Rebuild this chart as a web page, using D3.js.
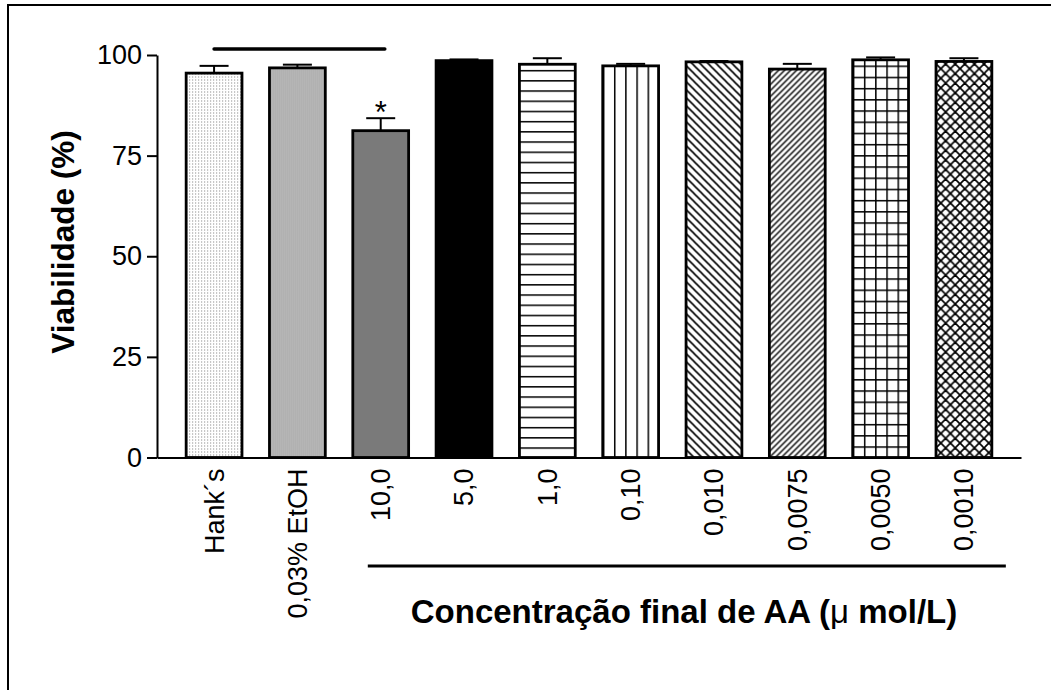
<!DOCTYPE html>
<html>
<head>
<meta charset="utf-8">
<script src="https://cdn.jsdelivr.net/npm/d3@7"></script>
<style>
  html, body { margin: 0; padding: 0; background: #fff; }
  svg { display: block; font-family: "Liberation Sans", Arial, sans-serif; }
</style>
</head>
<body>
<svg id="chart" width="1051" height="690"></svg>
<script>
// Cell viability per treatment (mean and upper SEM)
const categories = ["Hank´s", "0,03% EtOH", "10,0", "5,0", "1,0", "0,10", "0,010", "0,0075", "0,0050", "0,0010"];
const viability  = [95.5, 96.8, 81.2, 98.6, 97.7, 97.3, 98.3, 96.5, 98.8, 98.4];
const sem        = [1.8, 0.8, 3.1, 0.3, 1.5, 0.5, 0.2, 1.3, 0.6, 0.8];
const fillStyles = ["dots", "fineVertical", "checker", "solid", "hLines", "vLines", "backDiag", "fwdDiag", "grid", "cross"];
const yTicks     = [0, 25, 50, 75, 100];
const yTitle     = "Viabilidade (%)";
const xTitle     = "Concentração final de AA (";
const xTitleUnit = "μ";
const xTitleEnd  = " mol/L)";
const significant = ["10,0"];
const controlBracket = ["Hank´s", "10,0"];
const doseBracket = ["10,0", "0,0010"];

const svg = d3.select("#chart");
const defs = svg.append("defs");

// outer frame
svg.append("rect")
  .attr("x", 8).attr("y", 5).attr("width", 1200).attr("height", 900)
  .attr("fill", "none").attr("stroke", "#000").attr("stroke-width", 2);

const x = d3.scaleBand().domain(categories).range([157, 1021])
  .paddingInner(0.33).paddingOuter(0.35);
const y = d3.scaleLinear().domain([0, 100]).range([457.5, 55]);

// hatch / texture patterns, one per bar, anchored at the bar's left edge
function makePattern(id, style, x0) {
  const p = defs.append("pattern").attr("id", id)
    .attr("patternUnits", "userSpaceOnUse").attr("x", x0).attr("y", y(0));
  const line = (g, x1, y1, x2, y2, w) => g.append("line")
    .attr("x1", x1).attr("y1", y1).attr("x2", x2).attr("y2", y2)
    .attr("stroke", "#000").attr("stroke-width", w);
  const bg = (w, h, c) => p.append("rect").attr("width", w).attr("height", h).attr("fill", c);
  switch (style) {
    case "dots":
      p.attr("width", 3).attr("height", 3);
      bg(3, 3, "#fff");
      p.append("rect").attr("width", 1).attr("height", 1).attr("fill", "#7a7a7a");
      break;
    case "fineVertical":
      p.attr("width", 2).attr("height", 2);
      bg(2, 2, "#dcdcdc");
      p.append("rect").attr("width", 1).attr("height", 2).attr("fill", "#8a8a8a");
      break;
    case "checker":
      p.attr("width", 2).attr("height", 2);
      bg(2, 2, "#d2d2d2");
      p.append("rect").attr("width", 1).attr("height", 1).attr("fill", "#222");
      p.append("rect").attr("x", 1).attr("y", 1).attr("width", 1).attr("height", 1).attr("fill", "#222");
      break;
    case "solid":
      p.attr("width", 4).attr("height", 4);
      bg(4, 4, "#000");
      break;
    case "hLines":
      p.attr("width", 10).attr("height", 10.2);
      bg(10, 10.2, "#fff");
      line(p, 0, 0, 10, 0, 3);
      break;
    case "vLines":
      p.attr("width", 11.2).attr("height", 10);
      bg(11.2, 10, "#fff");
      line(p, 0, 0, 0, 10, 3);
      break;
    case "backDiag":
      p.attr("width", 8).attr("height", 8);
      bg(8, 8, "#fff");
      line(p, -1, -1, 9, 9, 1.6);
      line(p, -5, 3, 1, 9, 1.6);
      line(p, 7, -1, 9, 1, 1.6);
      break;
    case "fwdDiag":
      p.attr("width", 6).attr("height", 6);
      bg(6, 6, "#fff");
      line(p, -1, 7, 7, -1, 1.4);
      line(p, -1, 1, 1, -1, 1.4);
      line(p, 5, 7, 7, 5, 1.4);
      break;
    case "grid":
      p.attr("width", 11.2).attr("height", 11.2);
      bg(11.2, 11.2, "#fff");
      line(p, 0, 0, 11.2, 0, 3);
      line(p, 0, 0, 0, 11.2, 3);
      break;
    case "cross":
      p.attr("width", 9.6).attr("height", 9.6);
      bg(9.6, 9.6, "#fff");
      line(p, -1, -1, 10.6, 10.6, 1.7);
      line(p, -1, 10.6, 10.6, -1, 1.7);
      break;
  }
}

categories.forEach((c, i) => makePattern("fill" + i, fillStyles[i], x(c)));

// bars
svg.append("g").selectAll("rect")
  .data(categories)
  .join("rect")
  .attr("x", d => x(d))
  .attr("y", (d, i) => y(viability[i]))
  .attr("width", x.bandwidth())
  .attr("height", (d, i) => y(0) - y(viability[i]))
  .attr("fill", (d, i) => "url(#fill" + i + ")")
  .attr("stroke", "#000")
  .attr("stroke-width", 2.8);

// upper error bars
const eb = svg.append("g").attr("stroke", "#000").attr("stroke-width", 2);
categories.forEach((c, i) => {
  const cx = x(c) + x.bandwidth() / 2;
  const top = y(viability[i] + sem[i]);
  eb.append("line").attr("x1", cx).attr("x2", cx).attr("y1", y(viability[i])).attr("y2", top);
  eb.append("line").attr("x1", cx - 14.5).attr("x2", cx + 14.5).attr("y1", top).attr("y2", top);
});

// y axis
const yAxis = svg.append("g")
  .attr("transform", "translate(157,0)")
  .call(d3.axisLeft(y).tickValues(yTicks).tickSize(10).tickSizeOuter(0).tickPadding(5));
yAxis.select(".domain").attr("stroke-width", 2);
yAxis.selectAll(".tick line").attr("stroke-width", 2);
yAxis.selectAll(".tick text")
  .attr("font-size", 27).attr("fill", "#000")
  .attr("font-family", "Liberation Sans, Arial, sans-serif");

// x axis (no ticks), category labels set vertically
const xAxis = svg.append("g")
  .attr("transform", "translate(0," + y(0) + ")")
  .call(d3.axisBottom(x).tickSize(0).tickSizeOuter(0));
xAxis.select(".domain").attr("stroke-width", 2);
xAxis.selectAll(".tick text")
  .attr("font-size", 27).attr("fill", "#000")
  .attr("font-family", "Liberation Sans, Arial, sans-serif")
  .attr("text-anchor", "end")
  .attr("transform", "rotate(-90)")
  .attr("x", -11).attr("y", 0).attr("dy", "0.35em");

// y title
svg.append("text")
  .attr("transform", "translate(74,242) rotate(-90)")
  .attr("text-anchor", "middle")
  .attr("font-size", 31.5).attr("font-weight", "bold")
  .text(yTitle);

// x title
const xt = svg.append("text")
  .attr("x", 684).attr("y", 623)
  .attr("text-anchor", "middle")
  .attr("font-size", 33).attr("font-weight", "bold");
xt.append("tspan").text(xTitle);
xt.append("tspan").attr("font-weight", "normal").text(xTitleUnit);
xt.append("tspan").text(xTitleEnd);

// bracket grouping the AA concentrations
svg.append("line")
  .attr("x1", x(doseBracket[0]) + 15).attr("x2", x(doseBracket[1]) + x.bandwidth() + 14)
  .attr("y1", 566).attr("y2", 566)
  .attr("stroke", "#000").attr("stroke-width", 3);

// comparison line over the control groups
svg.append("line")
  .attr("x1", x(controlBracket[0]) + x.bandwidth() / 2)
  .attr("x2", x(controlBracket[1]) + 32)
  .attr("y1", 49).attr("y2", 49)
  .attr("stroke", "#000").attr("stroke-width", 3.5)
  .attr("stroke-linecap", "round");

// significance marker
significant.forEach(c => {
  const i = categories.indexOf(c);
  svg.append("text")
    .attr("x", x(c) + x.bandwidth() / 2)
    .attr("y", y(viability[i] + sem[i]) + 5)
    .attr("text-anchor", "middle")
    .attr("font-size", 31)
    .text("*");
});
</script>
</body>
</html>
